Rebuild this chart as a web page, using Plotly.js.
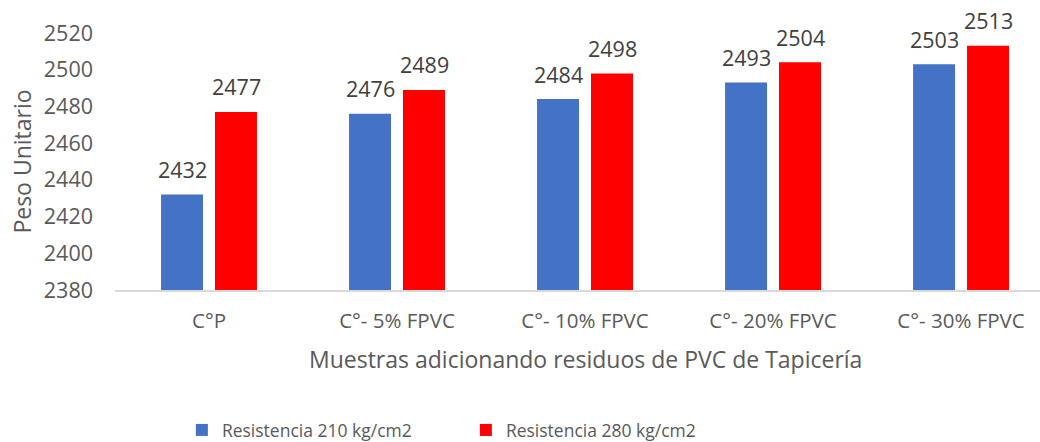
<!DOCTYPE html>
<html>
<head>
<meta charset="utf-8">
<script src="https://cdn.plot.ly/plotly-3.0.1.min.js"></script>
<style>html,body{margin:0;padding:0;background:#fff;}#chart{width:1040px;height:442px;}</style>
</head>
<body>
<div id="chart"></div>
<script>
const categories = ["C°P", "C°- 5% FPVC", "C°- 10% FPVC", "C°- 20% FPVC", "C°- 30% FPVC"];
const series210 = [2432, 2476, 2484, 2493, 2503];
const series280 = [2477, 2489, 2498, 2504, 2513];
const seriesNames = ["Resistencia 210 kg/cm2", "Resistencia 280 kg/cm2"];
const yTicks = [2380, 2400, 2420, 2440, 2460, 2480, 2500, 2520];

const FONT = "Open Sans, sans-serif";
const labelFont = {family: FONT, size: 21.5, color: "#404040"};

const traces = [
  {type: "bar", name: seriesNames[0], x: categories, y: series210,
   marker: {color: "#4472C4"}, cliponaxis: false, hoverinfo: "x+y"},
  {type: "bar", name: seriesNames[1], x: categories, y: series280,
   marker: {color: "#FF0000"}, cliponaxis: false, hoverinfo: "x+y"}
];

const valueLabels = [];
[series210, series280].forEach((vals, si) => {
  vals.forEach((v, i) => {
    valueLabels.push({
      x: categories[i], y: v, xref: "x", yref: "y", text: String(v),
      showarrow: false, xanchor: "center", yanchor: "middle",
      xshift: si === 0 ? -27 : 27, yshift: 25, font: labelFont
    });
  });
});

const layout = {
  width: 1040, height: 442,
  margin: {l: 115, r: 0, t: 33, b: 152, autoexpand: false},
  paper_bgcolor: "#fff", plot_bgcolor: "#fff",
  barmode: "group", bargap: 0.426, bargroupgap: 0.222,
  font: {family: FONT, color: "#595959"},
  xaxis: {
    type: "category", range: [-0.5, 4.42], automargin: false,
    showline: true, linecolor: "#d9d9d9", linewidth: 1.5,
    showgrid: false, zeroline: false, ticks: "",
    tickfont: {family: FONT, size: 20.5, color: "#595959"},
    ticklabelstandoff: 12
  },
  yaxis: {
    range: [2380, 2520], tickvals: yTicks, ticktext: yTicks.map(String), automargin: false,
    showgrid: false, zeroline: false, showline: false, ticks: "",
    tickfont: {family: FONT, size: 21.5, color: "#595959"},
    ticklabelstandoff: 21,
    title: {text: "Peso Unitario", font: {family: FONT, size: 23, color: "#595959"}, standoff: 5}
  },
  annotations: valueLabels.concat([{
    text: "Muestras adicionando residuos de PVC de Tapicería",
    xref: "paper", yref: "paper", x: (585 - 115) / 925, y: -0.27,
    xanchor: "center", yanchor: "middle", showarrow: false,
    font: {family: FONT, size: 23, color: "#595959"}
  }]),
  showlegend: true,
  legend: {
    orientation: "h", x: 0.0723, y: -0.545, xanchor: "left", yanchor: "middle",
    font: {family: FONT, size: 17.5, color: "#595959"},
    entrywidth: 239, entrywidthmode: "pixels", traceorder: "normal"
  }
};

Plotly.newPlot("chart", traces, layout, {displayModeBar: false, staticPlot: true});
</script>
</body>
</html>
